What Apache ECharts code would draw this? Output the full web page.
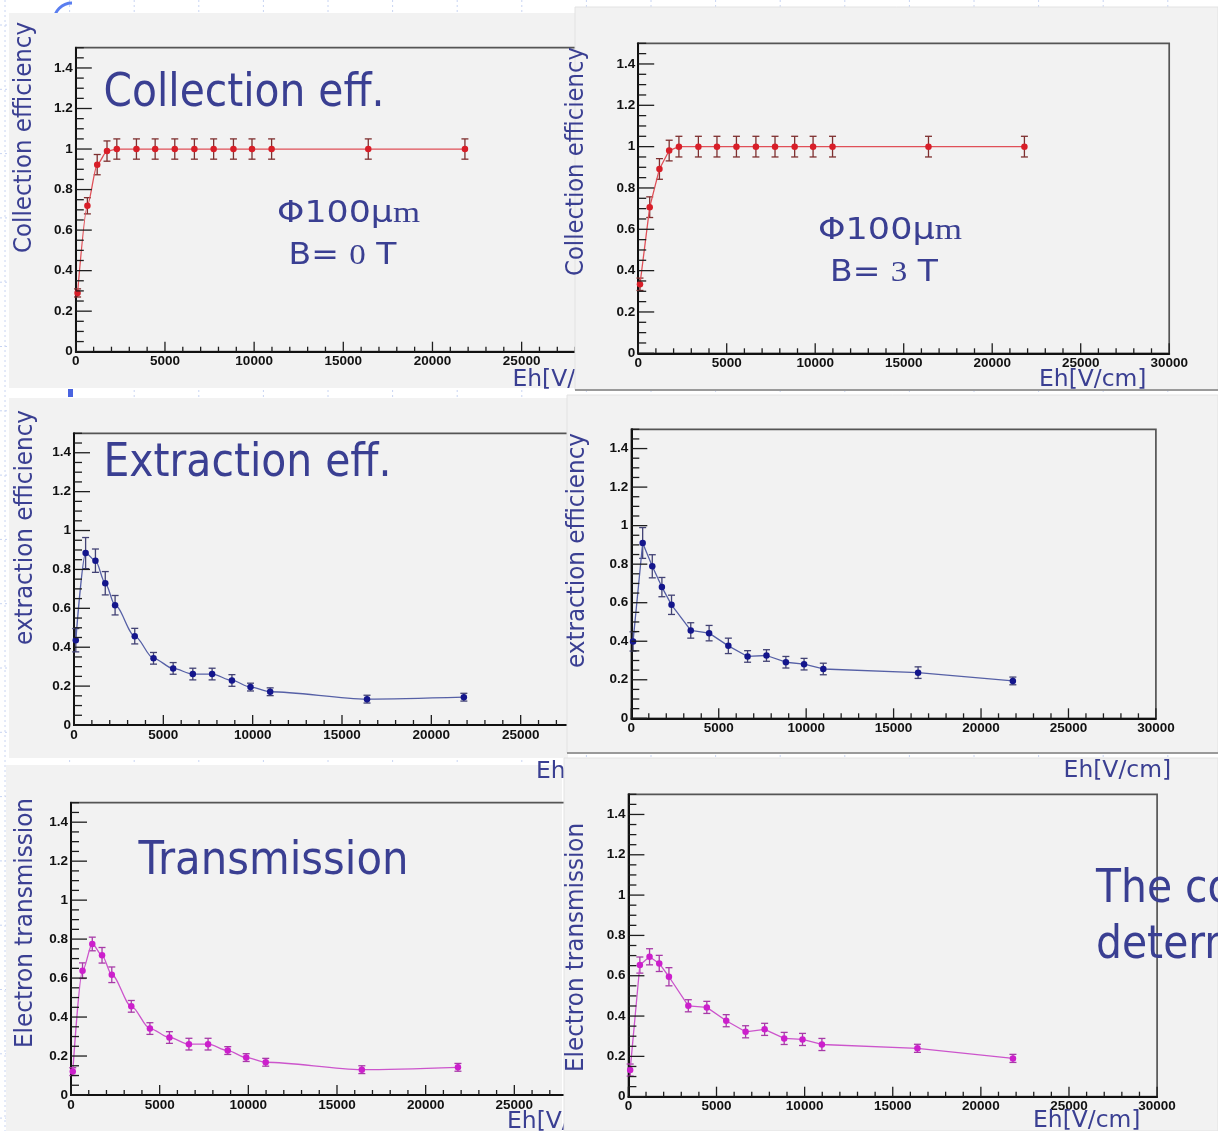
<!DOCTYPE html>
<html><head><meta charset="utf-8">
<script src="https://cdn.jsdelivr.net/npm/echarts@6.0.0/dist/echarts.min.js"></script>
<style>html,body{margin:0;padding:0;background:#fff;overflow:hidden}#c{width:1218px;height:1131px}</style>
</head><body><div id="c"></div>
<script>
// ---------------- data ----------------
const ehValues   = [100, 650, 1200, 1750, 2300, 3400, 4450, 5550, 6650, 7730, 8840, 9880, 10980, 16400, 21820];

const collB0     = [0.29, 0.72, 0.923, 0.99, 1, 1, 1, 1, 1, 1, 1, 1, 1, 1, 1];
const collB0Err  = [0.02, 0.04, 0.05, 0.05, 0.05, 0.05, 0.05, 0.05, 0.05, 0.05, 0.05, 0.05, 0.05, 0.05, 0.05];
const collB3     = [0.334, 0.707, 0.892, 0.981, 1, 1, 1, 1, 1, 1, 1, 1, 1, 1, 1];
const collB3Err  = [0.03, 0.05, 0.05, 0.05, 0.05, 0.05, 0.05, 0.05, 0.05, 0.05, 0.05, 0.05, 0.05, 0.05, 0.05];

const extrB0     = [0.436, 0.884, 0.845, 0.729, 0.616, 0.457, 0.343, 0.291, 0.262, 0.262, 0.229, 0.195, 0.171, 0.133, 0.143];
const extrB0Err  = [0.06, 0.08, 0.06, 0.06, 0.05, 0.04, 0.03, 0.03, 0.03, 0.03, 0.03, 0.02, 0.02, 0.02, 0.02];
const extrB3     = [0.399, 0.910, 0.789, 0.681, 0.589, 0.456, 0.442, 0.376, 0.321, 0.326, 0.291, 0.281, 0.256, 0.237, 0.194];
const extrB3Err  = [0.05, 0.08, 0.06, 0.05, 0.05, 0.04, 0.04, 0.04, 0.03, 0.03, 0.03, 0.03, 0.03, 0.03, 0.02];

const tranB0     = [0.120, 0.638, 0.775, 0.717, 0.617, 0.455, 0.341, 0.295, 0.261, 0.261, 0.228, 0.192, 0.168, 0.130, 0.142];
const tranB0Err  = [0.02, 0.04, 0.035, 0.04, 0.04, 0.03, 0.03, 0.03, 0.03, 0.03, 0.02, 0.02, 0.02, 0.02, 0.02];
const tranB3     = [0.132, 0.653, 0.694, 0.661, 0.595, 0.451, 0.443, 0.377, 0.322, 0.334, 0.289, 0.284, 0.259, 0.240, 0.190];
const tranB3Err  = [0.03, 0.04, 0.04, 0.04, 0.045, 0.03, 0.03, 0.03, 0.03, 0.03, 0.03, 0.03, 0.03, 0.02, 0.02];

// axis ranges: [min, max, major step, minor step]
const xAxisRange = [0, 30000, 5000, 1000];
const yAxisRange = [0, 1.5, 0.2, 0.05];

const yTitles   = ['Collection efficiency', 'Collection efficiency', 'extraction efficiency', 'extraction efficiency', 'Electron transmission', 'Electron transmission'];
const xTitle    = 'Eh[V/cm]';
const bigTitles = ['Collection eff.', 'Extraction eff.', 'Transmission'];

// ---------------- styling ----------------
const TXT = '#3a3f92';
const RED = {line:'#e05058', point:'#d81e28', err:'#7e2f2f'};
const BLUE = {line:'#5660a6', point:'#14168c', err:'#424274'};
const MAG = {line:'#cc55cc', point:'#cc1fcc', err:'#a83aa8'};
const PANEL_BG = '#f2f2f2';

const mctx = document.createElement('canvas').getContext('2d');
function tw(text, size, family) { mctx.font = size + 'px "' + family + '"'; return mctx.measureText(text).width; }

const panels = [
  {grid:{left:75.8, top:47.7, width:535, height:304}, v:collB0, e:collB0Err, c:RED, smooth:0.25, layer:1},
  {grid:{left:638.2, top:43.3, width:531, height:310}, v:collB3, e:collB3Err, c:RED, smooth:false, layer:2},
  {grid:{left:74, top:433.3, width:536, height:291.7}, v:extrB0, e:extrB0Err, c:BLUE, smooth:0.3, layer:1},
  {grid:{left:631.3, top:429.3, width:524.6, height:289}, v:extrB3, e:extrB3Err, c:BLUE, smooth:false, layer:2},
  {grid:{left:71, top:802.7, width:532, height:292.3}, v:tranB0, e:tranB0Err, c:MAG, smooth:0.3, layer:1},
  {grid:{left:628.4, top:794.3, width:528.7, height:302.4}, v:tranB3, e:tranB3Err, c:MAG, smooth:false, layer:2}
];

// tick positions (values), drawn through the axes' scales as ROOT-style inward ticks
const xTickValues = [], yTickValues = [];
for (let k = 0; k * xAxisRange[3] <= xAxisRange[1]; k++) xTickValues.push(xAxisRange[0] + k * xAxisRange[3]);
for (let k = 0; k * yAxisRange[3] <= yAxisRange[1] + 1e-9; k++) yTickValues.push(+(yAxisRange[0] + k * yAxisRange[3]).toFixed(4));

function tickRender(params, api) {
  const xv = api.value(0), yv = api.value(1);
  const st = {stroke:'#1e1e1e', lineWidth:1.3};
  const children = [];
  // one x tick and one y tick per data row
  if (xv >= 0) {
    const p = api.coord([xv, yAxisRange[0]]);
    const L = (Math.abs(xv % xAxisRange[2]) < 1e-6) ? 10 : 5;
    children.push({type:'line', shape:{x1:p[0], y1:p[1], x2:p[0], y2:p[1] - L}, style:st});
  }
  if (yv >= 0) {
    const q = api.coord([xAxisRange[0], yv]);
    const r = yv / yAxisRange[2];
    const L = (Math.abs(r - Math.round(r)) < 1e-6) ? 16 : 8;
    children.push({type:'line', shape:{x1:q[0], y1:q[1], x2:q[0] + L, y2:q[1]}, style:st});
  }
  return {type:'group', children:children};
}
const tickRows = [];
const nRows = Math.max(xTickValues.length, yTickValues.length);
for (let k = 0; k < nRows; k++) tickRows.push([k < xTickValues.length ? xTickValues[k] : -1, k < yTickValues.length ? yTickValues[k] : -1]);

function errRender(color) {
  return function (params, api) {
    const x = api.value(0), y = api.value(1), e = api.value(2);
    const t = api.coord([x, y + e]), b = api.coord([x, y - e]);
    const cap = 3.5, st = {stroke: color, lineWidth: 1.3};
    return {type:'group', children:[
      {type:'line', shape:{x1:t[0], y1:t[1], x2:b[0], y2:b[1]}, style:st},
      {type:'line', shape:{x1:t[0]-cap, y1:t[1], x2:t[0]+cap, y2:t[1]}, style:st},
      {type:'line', shape:{x1:b[0]-cap, y1:b[1], x2:b[0]+cap, y2:b[1]}, style:st}
    ]};
  };
}

const grids = [], xAxes = [], yAxes = [], series = [];
const labelStyle = {color:'#111', fontFamily:'Liberation Sans', fontWeight:'bold', fontSize:13.5};
panels.forEach((p, i) => {
  const zl = p.layer;
  grids.push(Object.assign({show:true, borderColor:'#555', borderWidth:1.7, backgroundColor:'transparent',
    containLabel:false, outerBoundsMode:'none', zlevel:zl, z:1}, p.grid));
  xAxes.push({gridIndex:i, type:'value', position:'bottom', min:xAxisRange[0], max:xAxisRange[1], interval:xAxisRange[2], zlevel:zl, z:3,
    axisLine:{show:true, onZero:false, lineStyle:{color:'#111', width:2}},
    axisTick:{show:false}, minorTick:{show:false}, splitLine:{show:false}, minorSplitLine:{show:false},
    axisLabel:Object.assign({margin:3, showMaxLabel:true, showMinLabel:true, formatter:(v) => String(Math.round(v))}, labelStyle)});
  yAxes.push({gridIndex:i, type:'value', position:'left', min:yAxisRange[0], max:yAxisRange[1], interval:yAxisRange[2], zlevel:zl, z:3,
    axisLine:{show:true, onZero:false, lineStyle:{color:'#111', width:2}},
    axisTick:{show:false}, minorTick:{show:false}, splitLine:{show:false}, minorSplitLine:{show:false},
    axisLabel:Object.assign({margin:3, showMaxLabel:false, showMinLabel:true}, labelStyle)});
  series.push({type:'custom', xAxisIndex:i, yAxisIndex:i, zlevel:zl, z:7, silent:true,
    data: tickRows, renderItem: tickRender});
  series.push({type:'custom', xAxisIndex:i, yAxisIndex:i, zlevel:zl, z:4, silent:true,
    data: ehValues.map((x, k) => [x, p.v[k], p.e[k]]), encode:{x:0, y:1}, renderItem: errRender(p.c.err)});
  series.push({type:'line', xAxisIndex:i, yAxisIndex:i, zlevel:zl, z:5, silent:true,
    data: ehValues.map((x, k) => [x, p.v[k]]), symbol:'circle', symbolSize:6.5, showSymbol:true,
    smooth:p.smooth, smoothMonotone:'x',
    lineStyle:{color:p.c.line, width:1.3}, itemStyle:{color:p.c.point}});
});

// ---------------- slide graphics ----------------
const g = [];
g.push({type:'rect', zlevel:0, z:0, shape:{x:0, y:0, width:1218, height:1131}, style:{fill:'#ffffff'}});
for (let x = 5; x < 1218; x += 64.6) g.push({type:'line', zlevel:0, z:1, shape:{x1:x, y1:0, x2:x, y2:1131}, style:{stroke:'#c8d4f2', lineWidth:1, lineDash:[2, 3]}});
for (let y = 25; y < 1131; y += 64.3) g.push({type:'line', zlevel:0, z:1, shape:{x1:0, y1:y, x2:1218, y2:y}, style:{stroke:'#c8d4f2', lineWidth:1, lineDash:[2, 3]}});
g.push({type:'arc', zlevel:0, z:2, shape:{cx:72, cy:21, r:18, startAngle:Math.PI, endAngle:1.5*Math.PI}, style:{stroke:'#5a7ef0', lineWidth:3, fill:null}});
g.push({type:'rect', zlevel:0, z:2, shape:{x:68, y:389, width:5, height:8}, style:{fill:'#4a64e0'}});

[[9,13,566,375],[9,398,559,360],[6,765,556,366]].forEach(r => g.push({type:'rect', zlevel:1, z:0, shape:{x:r[0], y:r[1], width:r[2], height:r[3]}, style:{fill:PANEL_BG}}));
[[575,7,643,383],[567,395,651,358],[564,758,654,373]].forEach(r => g.push({type:'rect', zlevel:2, z:0, shape:{x:r[0], y:r[1], width:r[2], height:r[3]}, style:{fill:PANEL_BG, stroke:'#e2e2e2', lineWidth:1}}));
g.push({type:'line', zlevel:2, z:1, shape:{x1:575, y1:390, x2:1218, y2:390}, style:{stroke:'#9a9a9a', lineWidth:2}});
g.push({type:'line', zlevel:2, z:1, shape:{x1:567, y1:753, x2:1218, y2:753}, style:{stroke:'#9a9a9a', lineWidth:2}});

const FF = 'DejaVu Sans';
function leftText(text, x, y, size, sx, zl, z) {
  return {type:'text', zlevel:zl, z:z||8, x:x, y:y, scaleX:sx, silent:true,
    style:{text:text, x:0, y:0, fontSize:size, fontFamily:FF, fill:TXT, textAlign:'left', verticalAlign:'middle', textVerticalAlign:'middle'}};
}
function vText(text, cx, cy, size, len, zl) {
  const sx = len / tw(text, size, FF);
  return {type:'text', zlevel:zl, z:8, x:cx, y:cy, rotation:Math.PI/2, scaleX:sx, silent:true,
    style:{text:text, x:0, y:0, fontSize:size, fontFamily:FF, fill:TXT, textAlign:'center', verticalAlign:'middle', textVerticalAlign:'middle'}};
}
function mixText(parts, x, y, size, target, zl) {
  let w = 0, str = '';
  parts.forEach(p => { w += tw(p[1], size, p[0] === 'r' ? 'Liberation Serif' : FF); str += '{' + p[0] + '|' + p[1] + '}'; });
  return {type:'text', zlevel:zl, z:8, x:x, y:y, scaleX:target / w, silent:true,
    style:{text:str, x:0, y:0, fontSize:size, fontFamily:FF, fill:TXT, textAlign:'left', verticalAlign:'middle', textVerticalAlign:'middle',
      rich:{s:{fontFamily:FF, fontSize:size, fill:TXT}, r:{fontFamily:'Liberation Serif', fontSize:size, fill:TXT}}}};
}

const TS = 47;
const sCol = 281 / tw(bigTitles[0], TS, FF);
const sExt = 288 / tw(bigTitles[1], TS, FF);
const sTra = 270 / tw(bigTitles[2], TS, FF);
g.push(leftText(bigTitles[0], 103.5, 94, TS, sCol, 1));
g.push(leftText(bigTitles[1], 103.5, 464, TS, sExt, 1));
g.push(leftText(bigTitles[2], 138.5, 862, TS, sTra, 1));
g.push(leftText('The co', 1096, 890, TS, sExt, 2, 9));
g.push(leftText('determ', 1096, 946, TS, sExt, 2, 9));

g.push(mixText([['s','Φ100μ'],['r','m']], 277, 214, 30, 143, 1));
g.push(mixText([['s','B= '],['r','0'],['s',' T']], 288.5, 256, 30, 108, 1));
g.push(mixText([['s','Φ100μ'],['r','m']], 818, 231, 30, 144, 2));
g.push(mixText([['s','B= '],['r','3'],['s',' T']], 830, 273, 30, 108, 2));

g.push(vText(yTitles[0], 24.5, 137.5, 24, 231, 1));
g.push(vText(yTitles[1], 576.5, 161.5, 24, 229, 2));
g.push(vText(yTitles[2], 25.5, 527.5, 24, 235, 1));
g.push(vText(yTitles[3], 578, 550.5, 24, 235, 2));
g.push(vText(yTitles[4], 25.5, 923, 24, 250, 1));
g.push(vText(yTitles[5], 577, 947.5, 24, 249, 2));

const XS = 23, sx = 107.5 / tw(xTitle, XS, FF);
g.push(leftText(xTitle, 512.4, 380, XS, sx, 1));
g.push(leftText(xTitle, 1039, 380, XS, sx, 2));
g.push(leftText(xTitle, 536, 772, XS, sx, 1));
g.push(leftText(xTitle, 1063.6, 771.5, XS, sx, 2, 12));
g.push(leftText(xTitle, 507, 1122, XS, sx, 1));
g.push(leftText(xTitle, 1033, 1121, XS, sx, 2, 9));

const chart = echarts.init(document.getElementById('c'), null, {renderer:'canvas'});
chart.setOption({
  animation:false,
  backgroundColor:'#ffffff',
  grid:grids, xAxis:xAxes, yAxis:yAxes, series:series,
  graphic:{elements:g}
});
</script>
</body></html>
